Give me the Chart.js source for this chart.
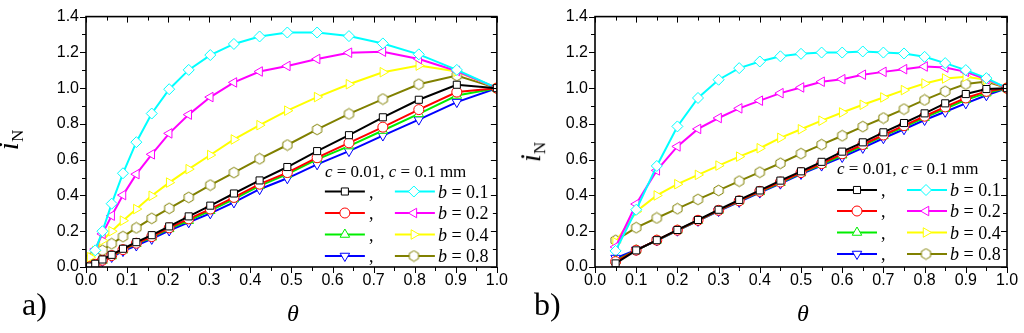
<!DOCTYPE html>
<html>
<head>
<meta charset="utf-8">
<script src="https://cdn.jsdelivr.net/npm/chart.js@4"></script>
<style>
  body { margin: 0; background: #fff; }
  #wrap { position: relative; width: 1024px; height: 333px; overflow: hidden; }
  .pane { position: absolute; top: 0; width: 512px; height: 333px; }
  .lbl { position: absolute; font-family: 'Liberation Serif', 'Times New Roman', serif; color: #000; white-space: nowrap; }
  .panel { font-size: 32px; }
  .theta { font-size: 24px; font-style: italic; }
  .yname { font-size: 29px; font-style: italic; transform: rotate(-90deg); transform-origin: center center; }
  .yname sub { font-style: normal; font-size: 17px; vertical-align: -5px; }
</style>
</head>
<body>
<div id="wrap">
  <div class="pane" style="left:0"><canvas id="ca" width="512" height="333"></canvas></div>
  <div class="pane" style="left:512px"><canvas id="cb" width="512" height="333"></canvas></div>
  <div class="lbl panel" style="left:22px;top:286px">a)</div>
  <div class="lbl panel" style="left:534px;top:286px">b)</div>
  <div class="lbl theta" style="left:287px;top:300px">θ</div>
  <div class="lbl theta" style="left:797px;top:300px">θ</div>
  <div class="lbl yname" style="left:0px;top:122px">i<sub>N</sub></div>
  <div class="lbl yname" style="left:522px;top:134px">i<sub>N</sub></div>
</div>
<script>
// theta values, panel a) (non uniform) and panel b)
const thetaA = [0.0025, 0.01, 0.0225, 0.04, 0.0625, 0.09, 0.1225, 0.16, 0.2025, 0.25, 0.3025, 0.36, 0.4225, 0.49, 0.5625, 0.64, 0.7225, 0.81, 0.9025, 1.0];
const thetaB = [0.05, 0.1, 0.15, 0.2, 0.25, 0.3, 0.35, 0.4, 0.45, 0.5, 0.55, 0.6, 0.65, 0.7, 0.75, 0.8, 0.85, 0.9, 0.95, 1.0];

// panel a) c = 0.01 (b = 0.1, 0.2, 0.4, 0.8)
const a_c001_b01 = [null, 0.003, 0.018, 0.042, 0.068, 0.102, 0.139, 0.178, 0.227, 0.283, 0.343, 0.411, 0.484, 0.559, 0.648, 0.737, 0.837, 0.935, 1.019, 1.0];
const a_c001_b02 = [null, 0.002, 0.015, 0.038, 0.064, 0.097, 0.133, 0.170, 0.219, 0.269, 0.324, 0.389, 0.463, 0.528, 0.611, 0.694, 0.782, 0.880, 0.978, 1.0];
const a_c001_b04 = [null, 0.001, 0.012, 0.036, 0.061, 0.094, 0.130, 0.166, 0.213, 0.259, 0.315, 0.380, 0.454, 0.519, 0.602, 0.676, 0.763, 0.856, 0.959, 1.0];
const a_c001_b08 = [null, 0.0, 0.008, 0.033, 0.056, 0.089, 0.120, 0.157, 0.204, 0.250, 0.300, 0.361, 0.435, 0.496, 0.574, 0.648, 0.735, 0.824, 0.922, 1.0];
// panel a) c = 0.1 mm
const a_c01_b01 = [null, null, 0.093, 0.200, 0.354, 0.524, 0.698, 0.858, 0.994, 1.102, 1.185, 1.247, 1.289, 1.311, 1.311, 1.291, 1.250, 1.189, 1.102, 1.0];
const a_c01_b02 = [null, null, 0.100, 0.185, 0.287, 0.402, 0.519, 0.630, 0.747, 0.852, 0.950, 1.032, 1.093, 1.124, 1.163, 1.198, 1.204, 1.163, 1.096, 1.0];
const a_c01_b04 = [0.030, 0.055, 0.090, 0.148, 0.200, 0.259, 0.324, 0.398, 0.472, 0.547, 0.626, 0.713, 0.793, 0.874, 0.950, 1.022, 1.089, 1.126, 1.093, 1.0];
const a_c01_b08 = [0.028, 0.045, 0.065, 0.093, 0.130, 0.170, 0.219, 0.272, 0.328, 0.389, 0.458, 0.528, 0.605, 0.682, 0.769, 0.856, 0.939, 1.022, 1.070, 1.0];

// panel b) c = 0.01
const b_c001_b01 = [0.020, 0.093, 0.150, 0.207, 0.263, 0.320, 0.375, 0.428, 0.483, 0.535, 0.588, 0.645, 0.697, 0.753, 0.805, 0.859, 0.915, 0.967, 0.995, 1.0];
const b_c001_b02 = [0.030, 0.094, 0.150, 0.206, 0.261, 0.317, 0.370, 0.423, 0.475, 0.528, 0.578, 0.633, 0.685, 0.738, 0.790, 0.843, 0.895, 0.945, 0.982, 1.0];
const b_c001_b04 = [0.035, 0.094, 0.149, 0.205, 0.260, 0.316, 0.368, 0.420, 0.471, 0.525, 0.573, 0.625, 0.678, 0.733, 0.782, 0.835, 0.885, 0.935, 0.972, 1.0];
const b_c001_b08 = [0.050, 0.095, 0.148, 0.203, 0.258, 0.313, 0.364, 0.416, 0.466, 0.520, 0.567, 0.615, 0.666, 0.720, 0.770, 0.822, 0.868, 0.915, 0.960, 1.0];
// panel b) c = 0.1 mm
const b_c01_b01 = [0.090, 0.320, 0.565, 0.786, 0.945, 1.047, 1.112, 1.149, 1.178, 1.192, 1.199, 1.199, 1.205, 1.199, 1.194, 1.175, 1.140, 1.101, 1.056, 1.0];
const b_c01_b02 = [0.112, 0.352, 0.540, 0.674, 0.772, 0.833, 0.887, 0.930, 0.972, 1.004, 1.036, 1.050, 1.075, 1.091, 1.106, 1.121, 1.115, 1.091, 1.050, 1.0];
const b_c01_b04 = [0.139, 0.310, 0.400, 0.463, 0.515, 0.567, 0.617, 0.664, 0.722, 0.770, 0.818, 0.864, 0.907, 0.948, 0.989, 1.026, 1.054, 1.064, 1.047, 1.0];
const b_c01_b08 = [0.149, 0.220, 0.274, 0.326, 0.378, 0.428, 0.480, 0.530, 0.580, 0.634, 0.684, 0.734, 0.785, 0.833, 0.883, 0.934, 0.982, 1.023, 1.037, 1.0];

const bLabels = ['0.1', '0.2', '0.4', '0.8'];
const xTickLabels = ['0.0', '0.1', '0.2', '0.3', '0.4', '0.5', '0.6', '0.7', '0.8', '0.9', '1.0'];
const yTickLabels = ['0.0', '0.2', '0.4', '0.6', '0.8', '1.0', '1.2', '1.4'];

const cols = ['#000000', '#ff0000', '#00ee00', '#0000ff', '#00ffff', '#ff00ff', '#ffff00', '#808000'];

// hexagon marker for the olive series
function hexMarker(col) {
  const c = document.createElement('canvas');
  c.width = 13; c.height = 13;
  const g = c.getContext('2d');
  g.beginPath();
  for (let k = 0; k < 6; k++) {
    const ang = Math.PI / 6 + k * Math.PI / 3;
    const px = 6.5 + 5.3 * Math.cos(ang), py = 6.5 + 5.3 * Math.sin(ang);
    k ? g.lineTo(px, py) : g.moveTo(px, py);
  }
  g.closePath();
  g.fillStyle = '#fff'; g.fill();
  g.strokeStyle = col; g.lineWidth = 1; g.stroke();
  return c;
}

const styles = [
  { pointStyle: 'rect', rot: 0, r: 5 },
  { pointStyle: 'circle', rot: 0, r: 5 },
  { pointStyle: 'triangle', rot: 0, r: 5.5 },
  { pointStyle: 'triangle', rot: 180, r: 5.5 },
  { pointStyle: 'rectRot', rot: 0, r: 5.5 },
  { pointStyle: 'triangle', rot: 270, r: 5.5 },
  { pointStyle: 'triangle', rot: 90, r: 5.5 },
  { pointStyle: hexMarker('#808000'), rot: 0, r: 5.5 }
];

function mkSets(theta, series) {
  return series.map((vals, i) => ({
    data: theta.map((t, k) => ({ x: t, y: vals[k] })),
    borderColor: cols[i],
    borderWidth: 2,
    pointStyle: styles[i].pointStyle,
    pointRotation: styles[i].rot,
    pointRadius: styles[i].r,
    pointBorderWidth: 1,
    pointBorderColor: cols[i],
    pointBackgroundColor: '#fff',
    tension: 0,
    fill: false
  }));
}

function drawMark(ctx, i, x, y) {
  const st = styles[i];
  ctx.save();
  ctx.strokeStyle = cols[i]; ctx.fillStyle = '#fff'; ctx.lineWidth = 1;
  if (Chart.helpers && Chart.helpers.drawPoint) {
    Chart.helpers.drawPoint(ctx, { pointStyle: st.pointStyle, rotation: st.rot, radius: st.r, borderWidth: 1 }, x, y);
  } else {
    ctx.beginPath(); ctx.arc(x, y, st.r, 0, Math.PI * 2); ctx.fill(); ctx.stroke();
  }
  ctx.restore();
}

// frame with ticks on all four sides, legend block
function framePlugin(lg) {
  return {
    id: 'frame',
    afterDraw(chart) {
      const ctx = chart.ctx, a = chart.chartArea, sx = chart.scales.x, sy = chart.scales.y;
      ctx.save();
      ctx.strokeStyle = '#000';
      ctx.lineWidth = 1;
      for (let k = 0; k <= 20; k++) {
        const px = Math.round(sx.getPixelForValue(k * 0.05)) + 0.5;
        const len = k % 2 ? 4 : 6;
        ctx.beginPath();
        ctx.moveTo(px, a.bottom); ctx.lineTo(px, a.bottom + len);
        ctx.moveTo(px, a.top); ctx.lineTo(px, a.top + len);
        ctx.stroke();
      }
      for (let k = 0; k <= 14; k++) {
        const py = Math.round(sy.getPixelForValue(k * 0.1)) + 0.5;
        const len = k % 2 ? 4 : 6;
        ctx.beginPath();
        ctx.moveTo(a.left, py); ctx.lineTo(a.left - len, py);
        ctx.moveTo(a.right, py); ctx.lineTo(a.right - len, py);
        ctx.stroke();
      }
      ctx.lineWidth = 1.6;
      ctx.strokeRect(a.left, a.top, a.right - a.left, a.bottom - a.top);

      // legend
      ctx.fillStyle = '#000';
      ctx.textBaseline = 'alphabetic';
      const hx = a.right - lg.dx, hy = lg.y0;
      let cx = hx;
      const piece = (txt, it) => {
        ctx.font = (it ? 'italic ' : '') + '17px "Liberation Serif", serif';
        ctx.fillText(txt, cx, hy);
        cx += ctx.measureText(txt).width;
      };
      piece('c', true); piece(' = 0.01, ', false); piece('c', true); piece(' = 0.1 mm', false);
      for (let r = 0; r < 4; r++) {
        const y = lg.rows[r];
        // left sample
        ctx.strokeStyle = cols[r]; ctx.lineWidth = 2;
        ctx.beginPath(); ctx.moveTo(hx, y); ctx.lineTo(hx + 40, y); ctx.stroke();
        drawMark(ctx, r, hx + 20, y);
        ctx.font = '18px "Liberation Serif", serif';
        ctx.fillText(',', hx + 44, y + 6);
        // right sample
        const rx = hx + 70;
        ctx.strokeStyle = cols[r + 4];
        ctx.beginPath(); ctx.moveTo(rx, y); ctx.lineTo(rx + 40, y); ctx.stroke();
        drawMark(ctx, r + 4, rx + 19, y);
        cx = rx + 43;
        const sy2 = y + 6;
        ctx.font = 'italic 18px "Liberation Serif", serif';
        ctx.fillText('b', cx, sy2); cx += ctx.measureText('b').width;
        ctx.font = '18px "Liberation Serif", serif';
        ctx.fillText(' = ' + bLabels[r], cx, sy2);
      }
      ctx.restore();
    }
  };
}

function mkChart(id, theta, series, box, lg) {
  return new Chart(document.getElementById(id), {
    type: 'line',
    data: { datasets: mkSets(theta, series) },
    options: {
      responsive: false,
      animation: false,
      layout: { padding: { left: 0, right: 512 - box.right, top: box.top, bottom: 0 } },
      plugins: { legend: { display: false }, tooltip: { enabled: false } },
      scales: {
        x: {
          type: 'linear', min: 0, max: 1,
          grid: { display: false, drawTicks: false },
          border: { display: false },
          afterFit: s => { s.height = 333 - box.bottom; },
          ticks: {
            stepSize: 0.1, padding: 4, maxRotation: 0, autoSkip: false,
            color: '#000', font: { family: '"Liberation Sans", Arial, sans-serif', size: 16 },
            callback: v => xTickLabels[Math.round(v * 10)]
          }
        },
        y: {
          min: 0, max: 1.4,
          grid: { display: false, drawTicks: false },
          border: { display: false },
          afterFit: s => { s.width = box.left; },
          ticks: {
            stepSize: 0.2, padding: 7,
            color: '#000', font: { family: '"Liberation Sans", Arial, sans-serif', size: 16 },
            callback: v => yTickLabels[Math.round(v * 5)]
          }
        }
      }
    },
    plugins: [framePlugin(lg)]
  });
}

mkChart('ca', thetaA, [a_c001_b01, a_c001_b02, a_c001_b04, a_c001_b08, a_c01_b01, a_c01_b02, a_c01_b04, a_c01_b08],
  { left: 86, right: 499, top: 15, bottom: 267 },
  { dx: 172, y0: 177, rows: [191.5, 213, 234.5, 256] });
mkChart('cb', thetaB, [b_c001_b01, b_c001_b02, b_c001_b04, b_c001_b08, b_c01_b01, b_c01_b02, b_c01_b04, b_c01_b08],
  { left: 83, right: 495, top: 16, bottom: 267 },
  { dx: 170, y0: 174, rows: [190, 211, 232.5, 254] });
</script>
</body>
</html>
